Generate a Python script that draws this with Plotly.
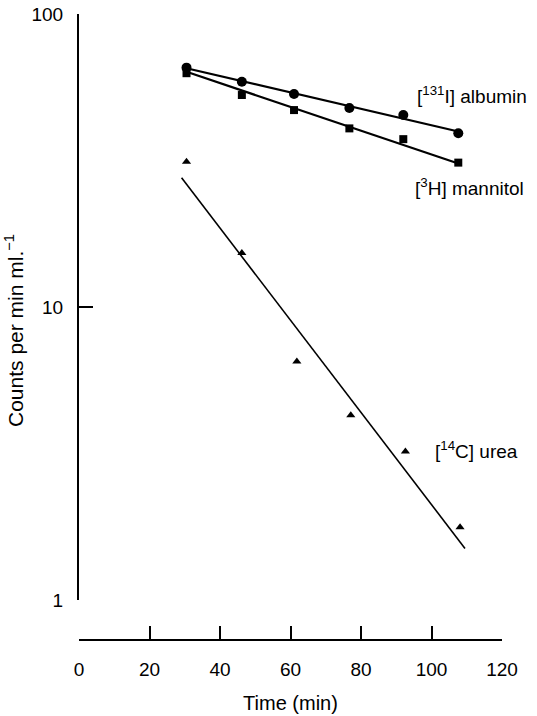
import plotly.graph_objects as go

# Data
time_pts = [30.5, 46.2, 61.0, 76.7, 92.0, 107.6]
albumin = [65.6, 58.7, 53.3, 47.8, 45.2, 39.2]
mannitol = [62.8, 52.9, 47.0, 40.7, 37.4, 31.1]
urea_time = [30.5, 46.2, 61.8, 77.1, 92.6, 108.1]
urea = [31.3, 15.3, 6.51, 4.27, 3.21, 1.77]

# Fitted regression lines (end points)
albumin_fit_x = [30.5, 107.6]
albumin_fit_y = [65.3, 39.7]
mannitol_fit_x = [30.5, 107.6]
mannitol_fit_y = [63.5, 30.9]
urea_fit_x = [29.1, 109.5]
urea_fit_y = [27.6, 1.50]

x_ticks = [0, 20, 40, 60, 80, 100, 120]
y_ticks = [1, 10, 100]

FONT = "Liberation Sans"

fig = go.Figure()
fig.add_trace(go.Scatter(x=albumin_fit_x, y=albumin_fit_y, mode="lines",
                         line=dict(color="black", width=2.2)))
fig.add_trace(go.Scatter(x=mannitol_fit_x, y=mannitol_fit_y, mode="lines",
                         line=dict(color="black", width=2.2)))
fig.add_trace(go.Scatter(x=urea_fit_x, y=urea_fit_y, mode="lines",
                         line=dict(color="black", width=1.6)))
fig.add_trace(go.Scatter(x=time_pts, y=albumin, mode="markers",
                         marker=dict(symbol="circle", size=10, color="black")))
fig.add_trace(go.Scatter(x=time_pts, y=mannitol, mode="markers",
                         marker=dict(symbol="square", size=8, color="black")))
fig.add_trace(go.Scatter(x=urea_time, y=urea, mode="markers",
                         marker=dict(symbol="triangle-up", size=8, color="black")))

fig.update_layout(
    width=537, height=716,
    margin=dict(l=79, r=35, t=14, b=76, autoexpand=False),
    plot_bgcolor="white", paper_bgcolor="white",
    showlegend=False,
    font=dict(family=FONT, color="black", size=19),
    xaxis=dict(
        range=[0, 120], tickvals=x_ticks, ticktext=[str(v) for v in x_ticks],
        showline=True, linecolor="black", linewidth=2,
        ticks="inside", ticklen=13, tickwidth=2, tickcolor="black",
        showgrid=False, zeroline=False,
        anchor="free", position=0, automargin=False,
        ticklabelstandoff=12,
        tickfont=dict(size=19, family=FONT),
        title=dict(text="Time (min)", font=dict(size=20, family=FONT), standoff=16),
    ),
    yaxis=dict(
        type="log", range=[0, 2], domain=[0.0639, 1], automargin=False,
        tickvals=y_ticks, ticktext=[str(v) for v in y_ticks],
        showline=True, linecolor="black", linewidth=2,
        ticks="inside", ticklen=14, tickwidth=2, tickcolor="black",
        showgrid=False, zeroline=False,
        ticklabelstandoff=10,
        tickfont=dict(size=19, family=FONT),
    ),
)

fig.add_annotation(text="Counts per min ml.<sup>−1</sup>", xref="paper", yref="paper",
                   x=-0.154, y=0.495, textangle=-90, showarrow=False,
                   xanchor="center", yanchor="middle", font=dict(size=21, family=FONT))

labels = [("[<sup>131</sup>I] albumin", 95.3, 1.7235),
          ("[<sup>3</sup>H] mannitol", 94.8, 1.41),
          ("[<sup>14</sup>C] urea", 100.4, 0.512)]
for txt, lx, ly in labels:
    fig.add_annotation(text=txt, x=lx, y=ly, xref="x", yref="y", showarrow=False,
                       xanchor="left", yanchor="middle", font=dict(size=19, family=FONT))

fig.write_html("out.html")
